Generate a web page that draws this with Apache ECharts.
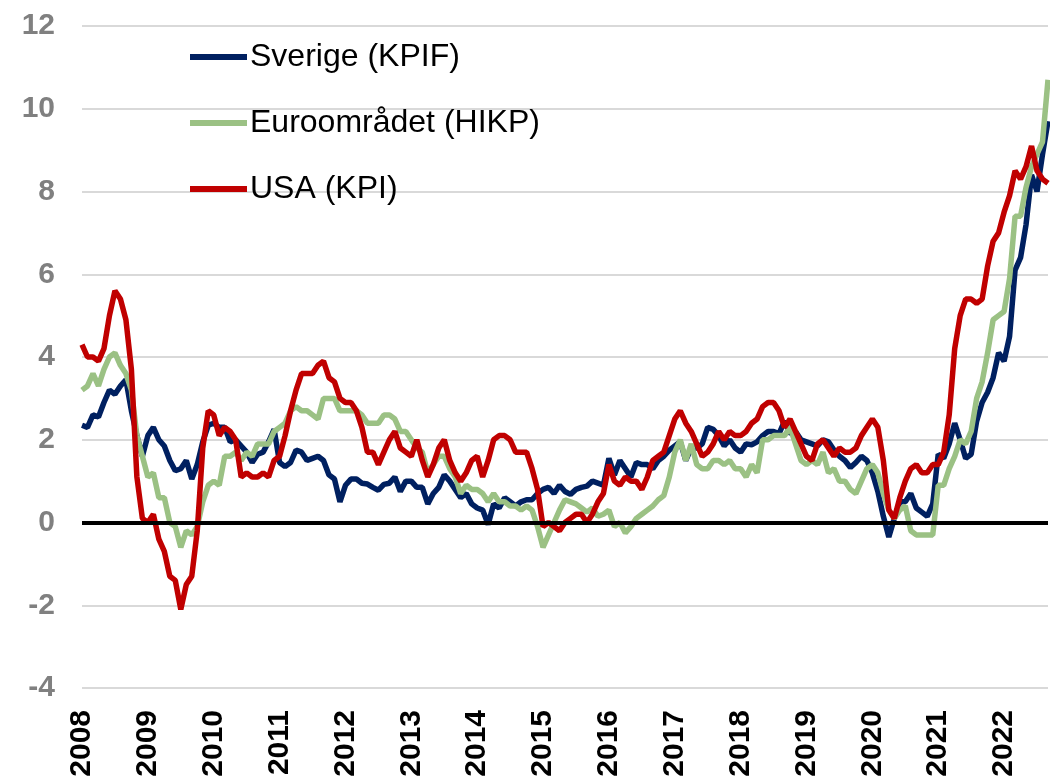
<!DOCTYPE html>
<html>
<head>
    <meta charset="UTF-8">
    <title>Inflation</title>
    <script src="https://cdn.jsdelivr.net/npm/echarts@6/dist/echarts.min.js" type="text/javascript"></script>
    <style>
        html, body { margin: 0; padding: 0; background: #fff; }
    </style>
</head>
<body>
<div id="chart" style="width:1050px;height:782px"></div>
<script type="text/javascript">
    // years shown on the x axis, monthly data from Jan 2008 to Sep 2022
    var years = [2008, 2009, 2010, 2011, 2012, 2013, 2014, 2015, 2016, 2017, 2018, 2019, 2020, 2021, 2022];
    var yTicks = [-4, -2, 0, 2, 4, 6, 8, 10, 12];

    // Sverige (KPIF), yoy %
    var sverige = [
        2.35, 2.3, 2.6, 2.55, 2.9, 3.2, 3.1, 3.3, 3.45, 2.7, 2.1, 1.6,
        2.1, 2.3, 2.0, 1.85, 1.5, 1.25, 1.3, 1.5, 1.05, 1.4, 1.95, 2.35,
        2.4, 2.3, 2.3, 1.95, 2.0, 1.85, 1.7, 1.45, 1.65, 1.7, 1.95, 2.25,
        1.45, 1.35, 1.45, 1.75, 1.7, 1.5, 1.55, 1.6, 1.5, 1.15, 1.05, 0.5,
        0.9, 1.05, 1.05, 0.95, 0.93, 0.85, 0.78, 0.92, 0.95, 1.1, 0.75, 1.0,
        1.0, 0.85, 0.85, 0.45, 0.7, 0.85, 1.15, 1.0, 0.8, 0.6, 0.7, 0.45,
        0.35, 0.3, -0.05, 0.45, 0.35, 0.6, 0.5, 0.4, 0.5, 0.55, 0.55, 0.7,
        0.8, 0.85, 0.7, 0.9, 0.75, 0.68, 0.8, 0.85, 0.88, 1.0, 0.95, 0.9,
        1.55, 1.15, 1.5, 1.3, 1.1, 1.45, 1.4, 1.4, 1.3, 1.5, 1.6, 1.75,
        1.85, 1.95, 1.5, 1.8, 1.8, 1.9, 2.3, 2.25, 2.1, 1.85, 2.0, 1.8,
        1.7, 1.9, 1.88, 1.95, 2.1, 2.2, 2.2, 2.15, 2.45, 2.15, 2.2, 2.0,
        1.95, 1.9, 1.85, 2.0, 1.95, 1.75, 1.6, 1.5, 1.33, 1.45, 1.6, 1.5,
        1.2, 0.75, 0.15, -0.35, 0.1, 0.5, 0.5, 0.7, 0.35, 0.25, 0.15, 0.45,
        1.65, 1.55, 1.9, 2.4, 2.0, 1.55, 1.65, 2.45, 2.9, 3.15, 3.5, 4.1,
        3.9, 4.5, 6.1, 6.4, 7.2, 8.4, 8.0, 8.9, 9.7
    ];

    // Euroområdet (HIKP)
    var euro = [
        3.2, 3.3, 3.6, 3.3, 3.7, 4.0, 4.1, 3.8, 3.6, 3.2, 2.1, 1.6,
        1.1, 1.2, 0.6, 0.6, 0.0, -0.1, -0.6, -0.2, -0.3, -0.1, 0.5, 0.9,
        1.0, 0.9, 1.6, 1.6, 1.7, 1.5, 1.7, 1.6, 1.9, 1.9, 1.9, 2.2,
        2.3, 2.4, 2.7, 2.8, 2.7, 2.7, 2.6, 2.5, 3.0, 3.0, 3.0, 2.7,
        2.7, 2.7, 2.7, 2.6, 2.4, 2.4, 2.4, 2.6, 2.6, 2.5, 2.2, 2.2,
        2.0, 1.8, 1.7, 1.2, 1.4, 1.6, 1.6, 1.3, 1.1, 0.7, 0.9, 0.8,
        0.8, 0.7, 0.5, 0.7, 0.5, 0.5, 0.4, 0.4, 0.3, 0.4, 0.3, -0.1,
        -0.6, -0.3, 0.0, 0.3, 0.55, 0.5, 0.45, 0.35, 0.25, 0.35, 0.15, 0.2,
        0.3, -0.1, 0.0, -0.25, -0.1, 0.1, 0.2, 0.3, 0.4, 0.55, 0.65, 1.1,
        1.7, 2.0, 1.5, 1.9, 1.4, 1.3, 1.3, 1.5, 1.5, 1.4, 1.5, 1.3,
        1.3, 1.1, 1.4, 1.2, 2.0, 2.0, 2.1, 2.1, 2.1, 2.3, 1.9, 1.5,
        1.4, 1.5, 1.4, 1.7, 1.2, 1.3, 1.0, 1.0, 0.8, 0.7, 1.0, 1.3,
        1.4, 1.2, 0.7, 0.3, 0.1, 0.3, 0.4, -0.2, -0.3, -0.3, -0.3, -0.3,
        0.9, 0.9, 1.3, 1.6, 2.0, 1.9, 2.2, 3.0, 3.4, 4.1, 4.9, 5.0,
        5.1, 5.9, 7.4, 7.4, 8.1, 8.6, 8.9, 9.2, 10.7
    ];

    // USA (KPI)
    var usa = [
        4.3, 4.0, 4.0, 3.9, 4.2, 5.0, 5.6, 5.4, 4.9, 3.7, 1.1, 0.1,
        0.0, 0.2, -0.4, -0.7, -1.3, -1.4, -2.1, -1.5, -1.3, -0.2, 1.8, 2.7,
        2.6, 2.1, 2.3, 2.2, 2.0, 1.1, 1.2, 1.1, 1.1, 1.2, 1.1, 1.5,
        1.6, 2.1, 2.7, 3.2, 3.6, 3.6, 3.6, 3.8, 3.9, 3.5, 3.4, 3.0,
        2.9, 2.9, 2.7, 2.3, 1.7, 1.7, 1.4, 1.7, 2.0, 2.2, 1.8, 1.7,
        1.6, 2.0, 1.5, 1.1, 1.4, 1.8, 2.0, 1.5, 1.2, 1.0, 1.2, 1.5,
        1.6, 1.1, 1.5, 2.0, 2.1, 2.1, 2.0, 1.7, 1.7, 1.7, 1.3, 0.8,
        -0.1, 0.0, -0.1, -0.2, 0.0, 0.1, 0.2, 0.2, 0.0, 0.2, 0.5, 0.7,
        1.4, 1.0, 0.9, 1.1, 1.0, 1.0, 0.8, 1.1, 1.5, 1.6, 1.7, 2.1,
        2.5, 2.7, 2.4, 2.2, 1.9, 1.6, 1.7, 1.9, 2.2, 2.0, 2.2, 2.1,
        2.1, 2.2, 2.4, 2.5, 2.8, 2.9, 2.9, 2.7, 2.3, 2.5, 2.2, 1.9,
        1.6, 1.5, 1.9, 2.0, 1.8, 1.6, 1.8, 1.7, 1.7, 1.8, 2.1, 2.3,
        2.5, 2.3, 1.5, 0.3, 0.1, 0.6, 1.0, 1.3, 1.4, 1.2, 1.2, 1.4,
        1.4, 1.7, 2.6, 4.2, 5.0, 5.4, 5.4, 5.3, 5.4, 6.2, 6.8, 7.0,
        7.5, 7.9, 8.5, 8.3, 8.6, 9.1, 8.5, 8.3, 8.2
    ];

    var names = ['Sverige (KPIF)', 'Euroområdet (HIKP)', 'USA (KPI)'];
    var colors = ['#002060', '#9bc184', '#c00000'];

    // månadskategorier
    var months = [];
    for (var i = 0; i < sverige.length; i++) {
        var y = years[0] + Math.floor(i / 12);
        var m = (i % 12) + 1;
        months.push(y + '-' + (m < 10 ? '0' + m : m));
    }

    var myChart = echarts.init(document.getElementById('chart'));
    var font = '"Liberation Sans", Arial, sans-serif';

    var option = {
        animation: false,
        backgroundColor: '#ffffff',
        grid: { left: 82, right: 2, top: 26, bottom: 94, containLabel: false },
        legend: {
            data: names,
            orient: 'vertical',
            left: 185,
            top: 36,
            icon: 'rect',
            itemWidth: 57,
            itemHeight: 6,
            itemGap: 34,
            textStyle: { fontFamily: font, fontSize: 32, color: '#000', lineHeight: 32, padding: [0, 0, 0, -2] }
        },
        xAxis: {
            type: 'category',
            data: months,
            boundaryGap: false,
            axisLine: { show: false },
            axisTick: { show: false },
            splitLine: { show: false },
            axisLabel: {
                interval: function (index) { return index % 12 === 0; },
                formatter: function (v) { return v.substring(0, 4); },
                rotate: 90,
                margin: 22,
                fontFamily: font,
                fontSize: 30,
                fontWeight: 'bold',
                color: '#000'
            }
        },
        yAxis: {
            type: 'value',
            min: yTicks[0],
            max: yTicks[yTicks.length - 1],
            interval: 2,
            axisLine: { show: false },
            axisTick: { show: false },
            splitLine: { lineStyle: { color: '#d9d9d9', width: 2 } },
            axisLabel: {
                margin: 27,
                fontFamily: font,
                fontSize: 30,
                fontWeight: 'bold',
                color: '#808080'
            }
        },
        series: [
            {
                name: 'zero',
                type: 'line',
                data: [],
                silent: true,
                markLine: {
                    silent: true,
                    symbol: ['none', 'none'],
                    label: { show: false },
                    lineStyle: { color: '#000', width: 4, type: 'solid' },
                    data: [{ yAxis: 0 }]
                }
            },
            {
                name: names[0], type: 'line', data: sverige, showSymbol: false,
                lineStyle: { color: colors[0], width: 5.5 }, itemStyle: { color: colors[0] }
            },
            {
                name: names[1], type: 'line', data: euro, showSymbol: false,
                lineStyle: { color: colors[1], width: 5.5 }, itemStyle: { color: colors[1] }
            },
            {
                name: names[2], type: 'line', data: usa, showSymbol: false,
                lineStyle: { color: colors[2], width: 5.5 }, itemStyle: { color: colors[2] }
            }
        ]
    };
    myChart.setOption(option);
</script>
</body>
</html>
